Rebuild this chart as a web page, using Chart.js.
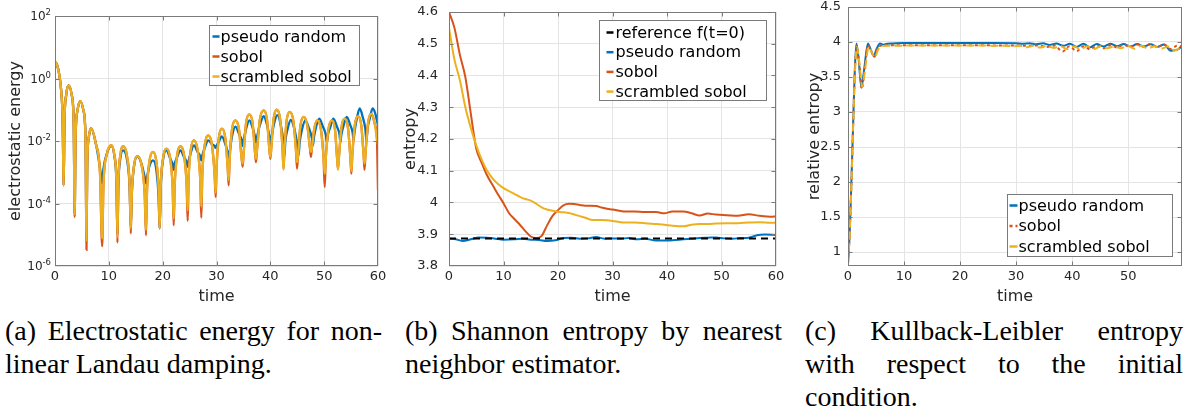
<!DOCTYPE html>
<html>
<head>
<meta charset="utf-8">
<script src="https://cdn.jsdelivr.net/npm/chart.js@4.4.1/dist/chart.umd.min.js"></script>
<style>
  html, body { margin: 0; padding: 0; background: #fff; }
  body { width: 1186px; height: 414px; position: relative; overflow: hidden; }
  canvas { position: absolute; top: 0; }
  .cap { position: absolute; font-family: "Liberation Serif", serif; font-size: 28px; line-height: 33px; color: #000; }
  .j { text-align: justify; text-align-last: justify; }
</style>
</head>
<body>
<canvas id="chartA" width="395" height="306" style="left:0px"></canvas>
<canvas id="chartB" width="395" height="306" style="left:395px"></canvas>
<canvas id="chartC" width="396" height="306" style="left:790px"></canvas>

<div class="cap" style="left:5px;top:314px;width:377px">
  <div class="j">(a) Electrostatic energy for non-</div>
  <div>linear Landau damping.</div>
</div>
<div class="cap" style="left:405px;top:314px;width:377px">
  <div class="j">(b) Shannon entropy by nearest</div>
  <div>neighbor estimator.</div>
</div>
<div class="cap" style="left:805px;top:314px;width:378px">
  <div class="j">(c) Kullback-Leibler entropy</div>
  <div class="j">with respect to the initial</div>
  <div>condition.</div>
</div>

<script>
// ---------- (a) electrostatic energy ----------
// one row per lobe: rise, rise, peak, fall, fall, dip
const timeA = [
  0, 0.4, 0.8, 1.15, 1.42, 1.61,
  1.75, 2.08, 2.54, 3.10, 3.48, 3.65,
  3.81, 4.18, 4.71, 5.28, 5.68, 5.85,
  5.98, 6.28, 6.7, 7.6, 8.35, 8.76,
  9.0, 9.6, 10.45, 11.02, 11.43, 11.6,
  11.76, 12.12, 12.65, 13.36, 13.86, 14.08,
  14.26, 14.69, 15.3, 16.1, 16.66, 16.9,
  17.1, 17.55, 18.2, 18.82, 19.25, 19.44,
  19.63, 20.07, 20.7, 21.38, 21.85, 22.05,
  22.24, 22.68, 23.3, 23.98, 24.45, 24.65,
  24.82, 25.22, 25.8, 26.49, 26.97, 27.18,
  27.37, 27.82, 28.45, 29.15, 29.64, 29.85,
  30.02, 30.43, 31.0, 31.63, 32.07, 32.26,
  32.45, 32.88, 33.5, 34.18, 34.66, 34.86,
  35.05, 35.48, 36.1, 36.72, 37.15, 37.34,
  37.55, 38.05, 38.77, 39.38, 39.8, 40.0,
  40.18, 40.6, 41.2, 41.82, 42.26, 42.45,
  42.62, 43.02, 43.6, 44.28, 44.76, 44.96,
  45.15, 45.58, 46.2, 46.88, 47.35, 47.55,
  47.72, 48.13, 48.7, 49.4, 49.89, 50.1,
  50.3, 50.78, 51.45, 52.01, 52.4, 52.57,
  52.75, 53.19, 53.8, 54.43, 54.86, 55.05,
  55.24, 55.68, 56.3, 56.9, 57.32, 57.5,
  57.7, 58.15, 58.8, 59.4, 59.8, 60
];
const scrambledA = [
  3.4, 2.7, 1.3, 0.4, 0.05, 3.8e-4,
  0.036, 0.3, 0.6, 0.3, 0.036, 4.5e-5,
  0.0114, 0.095, 0.19, 0.095, 0.0114, 6.6e-6,
  1.6e-3, 0.013, 0.026, 8e-3, 1e-3, 7.6e-6,
  4e-4, 3.6e-3, 7.3e-3, 3.6e-3, 4.4e-4, 8.5e-6,
  4e-4, 3.4e-3, 6.8e-3, 3.4e-3, 4e-4, 1.6e-5,
  2e-4, 1.65e-3, 3.3e-3, 1.65e-3, 2e-4, 1.4e-5,
  2.7e-4, 2.25e-3, 4.5e-3, 2.25e-3, 2.7e-4, 1.6e-5,
  3.4e-4, 2.85e-3, 5.7e-3, 2.85e-3, 3.4e-4, 3.3e-5,
  4e-4, 3.4e-3, 6.8e-3, 3.4e-3, 4e-4, 6e-5,
  6.3e-4, 5.2e-3, 0.0105, 5.2e-3, 6.3e-4, 8e-5,
  9e-4, 7.5e-3, 0.015, 7.5e-3, 9e-4, 2.2e-4,
  1.5e-3, 0.0125, 0.025, 0.0125, 1.5e-3, 5.5e-4,
  2.8e-3, 0.023, 0.046, 0.023, 2.8e-3, 1.9e-3,
  4.3e-3, 0.036, 0.071, 0.036, 4.3e-3, 2.7e-3,
  5.8e-3, 0.048, 0.096, 0.048, 5.8e-3, 3.1e-3,
  6e-3, 0.05, 0.1, 0.05, 6e-3, 1.2e-3,
  5.1e-3, 0.043, 0.085, 0.043, 5.1e-3, 2.1e-3,
  3.5e-3, 0.03, 0.059, 0.03, 6e-3, 4.5e-3,
  6e-3, 0.023, 0.046, 0.023, 2.8e-3, 8.9e-4,
  2.8e-3, 0.023, 0.046, 0.023, 2.8e-3, 1.2e-3,
  3.1e-3, 0.026, 0.052, 0.026, 3.1e-3, 1.1e-3,
  3.7e-3, 0.031, 0.062, 0.031, 3.7e-3, 1.9e-3,
  4.5e-3, 0.0375, 0.075, 0.035, 0.012, 8e-3
];
const sobolA = [
  3.4, 2.7, 1.3, 0.4, 0.05, 3.8e-4,
  0.036, 0.3, 0.6, 0.3, 0.036, 3.7e-5,
  0.0114, 0.095, 0.19, 0.095, 0.0114, 3.3e-6,
  1.6e-3, 0.013, 0.026, 8e-3, 1e-3, 4.3e-6,
  4e-4, 3.6e-3, 7.3e-3, 3.6e-3, 4.4e-4, 5.6e-6,
  4e-4, 3.4e-3, 6.8e-3, 3.4e-3, 4e-4, 1.1e-5,
  2e-4, 1.65e-3, 3.3e-3, 1.65e-3, 2e-4, 9.6e-6,
  2.7e-4, 2.25e-3, 4.5e-3, 2.25e-3, 2.7e-4, 1.6e-5,
  3.4e-4, 2.85e-3, 5.7e-3, 2.85e-3, 3.4e-4, 2e-5,
  4e-4, 3.4e-3, 6.8e-3, 3.4e-3, 4e-4, 2.8e-5,
  6.3e-4, 5.2e-3, 0.0105, 5.2e-3, 6.3e-4, 3.5e-5,
  9e-4, 7.5e-3, 0.015, 7.5e-3, 9e-4, 1.6e-4,
  1.5e-3, 0.0125, 0.025, 0.0125, 1.5e-3, 3.8e-4,
  2.8e-3, 0.023, 0.046, 0.023, 2.8e-3, 1.5e-3,
  4.3e-3, 0.036, 0.071, 0.036, 4.3e-3, 2.1e-3,
  5.8e-3, 0.048, 0.096, 0.048, 5.8e-3, 2.7e-3,
  6e-3, 0.05, 0.1, 0.05, 6e-3, 1.3e-3,
  5.1e-3, 0.043, 0.085, 0.043, 5.1e-3, 1.3e-3,
  3.5e-3, 0.03, 0.059, 0.03, 6e-3, 3.1e-3,
  6e-3, 0.023, 0.046, 0.023, 2.8e-3, 3.4e-4,
  2.8e-3, 0.023, 0.046, 0.023, 2.8e-3, 1.3e-3,
  3.1e-3, 0.026, 0.052, 0.026, 3.1e-3, 9e-4,
  3.7e-3, 0.031, 0.062, 0.031, 3.7e-3, 1.2e-3,
  4.5e-3, 0.0375, 0.075, 0.035, 0.012, 2.7e-4
];
const timePseudoA = [
  0, 0.4, 0.8, 1.15, 1.42, 1.61,
  1.75, 2.08, 2.54, 3.10, 3.48, 3.65,
  3.81, 4.18, 4.71, 5.28, 5.68, 5.85,
  5.98, 6.28, 6.7, 7.6, 8.35, 8.76,
  9.0, 9.6, 10.45, 11.02, 11.43, 11.6,
  11.76, 12.12, 12.65, 13.36, 13.86, 14.08,
  14.26, 14.69, 15.3, 16.1, 16.66, 16.9,
  17.1, 17.55, 18.2, 18.82, 19.25, 19.44,
  19.63, 20.07, 20.7, 21.38, 21.85, 22.05,
  22.24, 22.68, 23.3, 23.98, 24.45, 24.65,
  24.82, 25.22, 25.8, 26.49, 26.97, 27.18,
  27.37, 27.82, 28.45, 29.15, 29.64, 29.85,
  30.02, 30.43, 31.0, 31.63, 32.07, 32.26,
  32.45, 32.88, 33.5, 34.18, 34.66, 34.86,
  35.05, 35.48, 36.1, 36.72, 37.15, 37.34,
  37.55, 38.05, 38.77, 39.38, 39.8, 40.05,
  40.25, 40.7, 41.3, 41.95, 42.4, 42.6,
  42.8, 43.2, 43.8, 44.5, 44.95, 45.25,
  45.45, 45.9, 46.5, 47.2, 47.7, 47.9,
  48.1, 48.5, 49.1, 49.8, 50.3, 50.5,
  50.7, 51.15, 51.7, 52.4, 52.85, 53.0,
  53.2, 53.6, 54.2, 54.85, 55.3, 55.45,
  55.65, 56.1, 56.6, 57.2, 57.65, 57.85,
  58.05, 58.5, 59.0, 59.5, 59.8, 60
];
const pseudoA = [
  3.4, 2.7, 1.3, 0.4, 0.05, 3.8e-4,
  0.036, 0.3, 0.6, 0.3, 0.036, 4.5e-5,
  0.0114, 0.095, 0.19, 0.095, 0.0114, 6.6e-6,
  1.6e-3, 0.013, 0.026, 8e-3, 1.4e-3, 4.5e-4,
  1.3e-3, 3.8e-3, 7e-3, 3.4e-3, 4e-4, 1e-5,
  3.5e-4, 2.6e-3, 5e-3, 2.6e-3, 3.5e-4, 2e-5,
  2e-4, 1.6e-3, 3.2e-3, 1.8e-3, 7e-4, 4.4e-4,
  7e-4, 1.6e-3, 2.4e-3, 1.2e-3, 1.5e-4, 1.6e-5,
  3e-4, 2.5e-3, 5e-3, 2.8e-3, 1.8e-3, 1.2e-3,
  1.9e-3, 3e-3, 5e-3, 3e-3, 2.1e-3, 1.5e-3,
  2.3e-3, 4.2e-3, 7.2e-3, 4.5e-3, 3.3e-3, 2.4e-3,
  3.5e-3, 6e-3, 0.0105, 8e-3, 7e-3, 6e-3,
  7e-3, 9.5e-3, 0.014, 8e-3, 4.5e-3, 3.1e-3,
  4.5e-3, 0.014, 0.029, 0.017, 0.011, 7e-3,
  0.011, 0.024, 0.046, 0.026, 0.014, 9e-3,
  0.014, 0.032, 0.062, 0.033, 0.015, 8e-3,
  0.014, 0.036, 0.067, 0.032, 0.01, 3.2e-3,
  0.01, 0.024, 0.047, 0.023, 9e-3, 3.5e-3,
  9e-3, 0.024, 0.046, 0.025, 0.013, 7.2e-3,
  0.013, 0.028, 0.052, 0.028, 0.016, 9e-3,
  0.016, 0.028, 0.052, 0.028, 0.016, 9e-3,
  0.016, 0.031, 0.059, 0.032, 0.018, 0.0105,
  0.02, 0.055, 0.11, 0.055, 0.024, 0.01,
  0.024, 0.055, 0.11, 0.075, 0.045, 0.032
];
const xTicksA = [0, 10, 20, 30, 40, 50, 60];
const yTicksA = [1e-6, 1e-4, 1e-2, 1, 100];
const yTickBaseA = '10';
const yTickExpA = ['-6', '-4', '-2', '0', '2'];

// ---------- (b) Shannon entropy ----------
const timeRefB = [0, 60];
const referenceB = [3.887, 3.887];
const timePseudoB = [0, 1, 2.5, 4, 5.5, 7, 8.5, 10, 12, 13.5, 15, 16.5, 18, 19.5, 21, 22.5, 24, 25.5, 27, 28.5,
  30, 31.5, 33, 34.5, 36, 38, 40, 41.5, 43, 44.5, 46, 47.5, 49, 50.5, 52, 53.5, 55, 56.5, 58, 60];
const pseudoB = [3.886, 3.885, 3.879, 3.884, 3.890, 3.889, 3.886, 3.883, 3.884, 3.886, 3.883, 3.882, 3.879, 3.881, 3.888, 3.889, 3.886, 3.887, 3.891, 3.886,
  3.887, 3.886, 3.888, 3.884, 3.886, 3.880, 3.880, 3.882, 3.884, 3.886, 3.888, 3.889, 3.890, 3.887, 3.886, 3.888, 3.889, 3.897, 3.899, 3.898];
const timeSobolB = [0, 1, 2, 3, 4, 5, 6, 7, 8, 9, 10, 11, 12, 13, 14, 15, 16, 17, 18, 19, 20, 21, 22, 23, 24, 25, 26, 27, 28, 29,
  30, 32, 34, 36, 38, 39.5, 41, 43, 44.5, 46, 47.5, 49, 51, 53, 55, 57, 59, 60];
const sobolB = [4.60, 4.55, 4.465, 4.395, 4.28, 4.17, 4.125, 4.085, 4.055, 4.025, 3.998, 3.967, 3.948, 3.93, 3.91, 3.893, 3.888, 3.895, 3.928, 3.958,
  3.976, 3.991, 3.996, 3.995, 3.992, 3.990, 3.990, 3.989, 3.984, 3.980,
  3.978, 3.972, 3.972, 3.970, 3.970, 3.966, 3.972, 3.972, 3.966, 3.959, 3.965, 3.962, 3.960, 3.958, 3.963, 3.958, 3.955, 3.956];
const scrambledB = [4.55, 4.45, 4.385, 4.30, 4.235, 4.18, 4.135, 4.10, 4.076, 4.058, 4.045, 4.036, 4.027, 4.018, 4.011, 4.006, 3.996, 3.985, 3.978, 3.974,
  3.971, 3.969, 3.967, 3.962, 3.957, 3.952, 3.946, 3.945, 3.945, 3.944,
  3.942, 3.937, 3.937, 3.935, 3.932, 3.930, 3.927, 3.925, 3.930, 3.932, 3.932, 3.934, 3.935, 3.935, 3.937, 3.938, 3.936, 3.937];
const xTicksB = [0, 10, 20, 30, 40, 50, 60];
const yTicksB = [3.8, 3.9, 4, 4.1, 4.2, 4.3, 4.4, 4.5, 4.6];

// ---------- (c) Kullback-Leibler entropy ----------
const timePseudoC = [0, 0.3, 0.6, 0.9, 1.2, 1.5, 1.9, 2.4, 2.9, 3.55, 4.1, 4.6, 5.1, 5.7, 6.3, 7, 8, 10, 14, 18,
  22, 26, 30, 31.2, 32.4, 33.6, 34.8, 36, 37.2, 38.4, 39.6, 40.8, 42, 43.2, 44.4, 45.6, 46.8, 48, 49.2, 50.4,
  51.6, 52.8, 54, 55.2, 56.4, 57.6, 58.8, 59.6];
const pseudoC = [0.84, 1.27, 1.98, 2.79, 3.56, 3.98, 3.75, 3.35, 3.62, 3.98, 3.88, 3.8, 3.9, 3.98, 3.96, 3.975, 3.98, 3.985, 3.985, 3.985,
  3.985, 3.985, 3.983, 3.975, 3.983, 3.968, 3.982, 3.958, 3.98, 3.945, 3.975, 3.93, 3.975, 3.925, 3.972, 3.935, 3.975, 3.94, 3.972, 3.935,
  3.97, 3.935, 3.968, 3.93, 3.965, 3.875, 3.89, 3.94];
const timeSobolC = [0, 0.3, 0.6, 0.9, 1.2, 1.55, 1.95, 2.5, 2.95, 3.6, 4.15, 4.7, 5.2, 5.9, 7, 10, 15, 20, 25, 30,
  32, 34, 35.5, 36.8, 38.3, 39.5, 40.8, 42, 43.2, 44.4, 45.6, 46.8, 48, 49.2, 50.4, 51.6, 52.8, 54, 55.2, 56.4,
  57.6, 58.8, 59.6];
const sobolC = [0.84, 1.26, 1.97, 2.77, 3.53, 3.95, 3.73, 3.33, 3.6, 3.95, 3.87, 3.79, 3.89, 3.95, 3.952, 3.955, 3.955, 3.955, 3.952, 3.95,
  3.945, 3.95, 3.93, 3.95, 3.865, 3.94, 3.87, 3.94, 3.895, 3.95, 3.91, 3.955, 3.92, 3.96, 3.925, 3.965, 3.935, 3.97, 3.93, 3.965,
  3.9, 3.95, 3.935];
const timeScrambledC = [0, 0.3, 0.6, 0.9, 1.2, 1.6, 2.0, 2.55, 3.0, 3.7, 4.2, 4.8, 5.3, 6.0, 7, 10, 15, 20, 25, 28,
  29.5, 30.7, 31.9, 33.1, 34.3, 35.5, 36.7, 37.9, 39.1, 40.3, 41.5, 42.7, 43.9, 45.1, 46.3, 47.5, 48.7, 49.9, 51.1, 52.3,
  53.5, 54.7, 55.9, 57.1, 58.3, 59.6];
const scrambledC = [0.84, 1.25, 1.95, 2.75, 3.5, 3.93, 3.72, 3.36, 3.58, 3.93, 3.86, 3.78, 3.88, 3.94, 3.945, 3.948, 3.95, 3.95, 3.948, 3.945,
  3.94, 3.945, 3.925, 3.945, 3.92, 3.945, 3.915, 3.94, 3.9, 3.94, 3.895, 3.94, 3.9, 3.94, 3.91, 3.94, 3.91, 3.945, 3.905, 3.945,
  3.91, 3.94, 3.905, 3.935, 3.88, 3.935];
const xTicksC = [0, 10, 20, 30, 40, 50];
const yTicksC = [1, 1.5, 2, 2.5, 3, 3.5, 4, 4.5];

// ---------- styling ----------
const BLUE = '#0072BD', RED = '#D95319', YELLOW = '#EDB120';
const AXIS = '#7a7a7a', GRID = '#e4e4e4', TXT = '#262626';
const FONT = 'DejaVu Sans';

const pts = (xs, ys) => xs.map((x, i) => ({ x: x, y: ys[i] }));

// MATLAB-like box with inward tick marks
const frame = {
  id: 'frame',
  afterDatasetsDraw(chart) {
    const { ctx, chartArea: a, scales } = chart;
    const l = Math.round(a.left) + 0.5, r = Math.round(a.right) - 0.5;
    const t = Math.round(a.top) + 0.5, b = Math.round(a.bottom) - 0.5;
    ctx.save();
    ctx.strokeStyle = AXIS;
    ctx.lineWidth = 1;
    ctx.strokeRect(l, t, r - l, b - t);
    ctx.beginPath();
    scales.x.ticks.forEach(tk => {
      const p = Math.round(scales.x.getPixelForValue(tk.value)) + 0.5;
      if (p < l + 2 || p > r - 2) return;
      ctx.moveTo(p, b); ctx.lineTo(p, b - 4);
      ctx.moveTo(p, t); ctx.lineTo(p, t + 4);
    });
    scales.y.ticks.forEach(tk => {
      const p = Math.round(scales.y.getPixelForValue(tk.value)) + 0.5;
      if (p < t + 2 || p > b - 2) return;
      ctx.moveTo(l, p); ctx.lineTo(l + 4, p);
      ctx.moveTo(r, p); ctx.lineTo(r - 4, p);
    });
    ctx.stroke();
    ctx.restore();
  }
};

// legend box drawn inside the axes
const insideLegend = {
  id: 'insideLegend',
  afterDraw(chart, args, o) {
    const { ctx, chartArea: a } = chart;
    const bx = Math.round(a.left + o.x) + 0.5, by = Math.round(a.top + o.y) + 0.5;
    ctx.save();
    ctx.fillStyle = '#fff';
    ctx.fillRect(bx, by, o.w, o.h);
    ctx.strokeStyle = AXIS;
    ctx.lineWidth = 1;
    ctx.strokeRect(bx, by, o.w, o.h);
    ctx.font = '16px "' + FONT + '"';
    ctx.textBaseline = 'middle';
    chart.data.datasets.forEach((ds, i) => {
      const y = by + o.row0 + i * o.step;
      ctx.strokeStyle = ds.borderColor;
      ctx.lineWidth = 2.5;
      ctx.setLineDash(ds.borderDash || []);
      ctx.beginPath();
      ctx.moveTo(bx + o.s0, y);
      ctx.lineTo(bx + o.s1, y);
      ctx.stroke();
      ctx.setLineDash([]);
      ctx.fillStyle = '#000';
      ctx.fillText(ds.label, bx + o.tx, y + 1);
    });
    ctx.restore();
  }
};

// "10" with a raised exponent for the log axis
const powLabels = {
  id: 'powLabels',
  afterDraw(chart) {
    const { ctx, chartArea: a, scales: { y } } = chart;
    ctx.save();
    ctx.fillStyle = TXT;
    y.ticks.forEach((tk, i) => {
      const py = y.getPixelForValue(tk.value);
      const right = a.left - 4;
      ctx.font = '8.5px "' + FONT + '"';
      const ew = ctx.measureText(yTickExpA[i]).width;
      ctx.textAlign = 'left';
      ctx.textBaseline = 'alphabetic';
      ctx.fillText(yTickExpA[i], right - ew, py - 1);
      ctx.font = '12px "' + FONT + '"';
      ctx.textAlign = 'right';
      ctx.textBaseline = 'middle';
      ctx.fillText(yTickBaseA, right - ew, py + 1);
    });
    ctx.restore();
  }
};

const noPad = s => { s.paddingTop = 0; s.paddingBottom = 0; s.paddingLeft = 0; s.paddingRight = 0; };

function axisX(min, max, ticks) {
  return {
    type: 'linear', min: min, max: max,
    afterBuildTicks: s => { s.ticks = ticks.map(v => ({ value: v })); },
    afterFit: s => { s.height = 40; noPad(s); },
    grid: { color: GRID, drawTicks: false },
    border: { display: false },
    ticks: { padding: 3, color: TXT, font: { family: FONT, size: 13 }, maxRotation: 0, autoSkip: false },
    title: { display: true, text: 'time', color: TXT, font: { family: FONT, size: 16 }, padding: { top: 0, bottom: 0 } }
  };
}

function axisY(cfg) {
  return {
    type: cfg.type || 'linear', min: cfg.min, max: cfg.max,
    afterBuildTicks: s => { s.ticks = cfg.ticks.map(v => ({ value: v })); },
    afterFit: s => { s.width = cfg.width; noPad(s); },
    grid: { color: GRID, drawTicks: false },
    border: { display: false },
    ticks: {
      display: !cfg.hideLabels,
      padding: cfg.pad, color: TXT, font: { family: FONT, size: 13 }, autoSkip: false,
      callback: v => String(v)
    },
    title: { display: true, text: cfg.title, color: TXT, font: { family: FONT, size: 16 }, padding: { top: cfg.titlePad, bottom: 0 } }
  };
}

function makeChart(id, datasets, pad, xAxis, yAxis, legend, extra) {
  return new Chart(document.getElementById(id), {
    type: 'line',
    data: { datasets: datasets },
    options: {
      responsive: false,
      animation: false,
      devicePixelRatio: 1,
      layout: { padding: pad, autoPadding: false },
      elements: { point: { radius: 0 }, line: { borderWidth: 2, cubicInterpolationMode: 'monotone' } },
      plugins: { legend: { display: false }, tooltip: { enabled: false }, insideLegend: legend },
      scales: { x: xAxis, y: yAxis }
    },
    plugins: [frame, insideLegend].concat(extra || [])
  });
}

// (a)
makeChart('chartA', [
  { label: 'pseudo random', data: pts(timePseudoA, pseudoA), borderColor: BLUE, borderWidth: 2.3, order: 2 },
  { label: 'sobol', data: pts(timeA, sobolA), borderColor: RED, borderWidth: 2.3, order: 1 },
  { label: 'scrambled sobol', data: pts(timeA, scrambledA), borderColor: YELLOW, borderWidth: 2.3, order: 0 }
], { left: 0, right: 17, top: 16, bottom: 0 },
  axisX(0, 60, xTicksA),
  axisY({ type: 'logarithmic', min: 1e-6, max: 100, ticks: yTicksA, hideLabels: true, width: 55, pad: 7, title: 'electrostatic energy', titlePad: 6 }),
  { x: 154, y: 9, w: 150, h: 60, row0: 11, step: 20, s0: 3, s1: 10, tx: 11 },
  [powLabels]);

// (b)
makeChart('chartB', [
  { label: 'reference f(t=0)', data: pts(timeRefB, referenceB), borderColor: '#000', borderWidth: 2, borderDash: [7, 5], order: 0 },
  { label: 'pseudo random', data: pts(timePseudoB, pseudoB), borderColor: BLUE, borderWidth: 2, order: 3 },
  { label: 'sobol', data: pts(timeSobolB, sobolB), borderColor: RED, borderWidth: 2, order: 2 },
  { label: 'scrambled sobol', data: pts(timeSobolB, scrambledB), borderColor: YELLOW, borderWidth: 2, order: 1 }
], { left: 0, right: 14, top: 12, bottom: 0 },
  axisX(0, 60, xTicksB),
  axisY({ min: 3.8, max: 4.6, ticks: yTicksB, width: 54, pad: 11, title: 'entropy', titlePad: 6 }),
  { x: 150, y: 8, w: 167, h: 80, row0: 12, step: 19.7, s0: 7, s1: 14, tx: 16 });

// (c)
makeChart('chartC', [
  { label: 'pseudo random', data: pts(timePseudoC, pseudoC), borderColor: BLUE, borderWidth: 2, order: 2 },
  { label: 'sobol', data: pts(timeSobolC, sobolC), borderColor: RED, borderWidth: 2, borderDash: [3, 3], order: 1 },
  { label: 'scrambled sobol', data: pts(timeScrambledC, scrambledC), borderColor: YELLOW, borderWidth: 2, borderDash: [8, 4], order: 0 }
], { left: 0, right: 4, top: 7, bottom: 0 },
  axisX(0, 59.6, xTicksC),
  axisY({ min: 0.8, max: 4.5, ticks: yTicksC, width: 58, pad: 7, title: 'relative entropy', titlePad: 15 }),
  { x: 159, y: 187, w: 165, h: 62, row0: 11, step: 20.5, s0: 2, s1: 10, tx: 11 });
</script>
</body>
</html>
